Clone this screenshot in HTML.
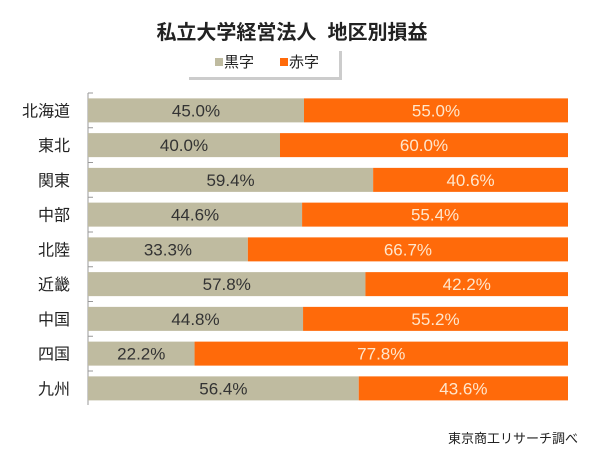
<!DOCTYPE html>
<html><head><meta charset="utf-8"><style>
body{margin:0;background:#fff;width:600px;height:450px;overflow:hidden;font-family:"Liberation Sans","Noto Sans CJK JP",sans-serif}
</style></head><body>
<svg width="600" height="450" id="svg">
<text x="292" y="39" text-anchor="middle" font-size="20" font-weight="bold" fill="#222" style="white-space:pre">私立大学経営法人  地区別損益</text>
<g>
<rect x="189" y="51" width="153" height="29" fill="#999" opacity="0.5"/>
<rect x="186" y="48" width="153" height="29" fill="#fff"/>
<rect x="215" y="58" width="8" height="8" fill="#bfbba0"/>
<text x="224" y="67" font-size="15" fill="#222">黒字</text>
<rect x="280" y="58" width="8" height="8" fill="#ff6a0a"/>
<text x="289" y="67" font-size="15" fill="#222">赤字</text>
</g>
<line x1="88" y1="93" x2="88" y2="405" stroke="#999"/>
<g id="bars"></g>
<text x="578" y="443" text-anchor="end" font-size="13" fill="#222">東京商工リサーチ調べ</text>
</svg>
<script>
const categories=["北海道","東北","関東","中部","北陸","近畿","中国","四国","九州"];
const blackValues=[45.0,40.0,59.4,44.6,33.3,57.8,44.8,22.2,56.4];
const redValues=[55.0,60.0,40.6,55.4,66.7,42.2,55.2,77.8,43.6];
const x0=88,x1=568,yTop=93,step=34.75,bh=24;
const xs=v=>x0+(x1-x0)*v/100;
const g=document.getElementById('bars');
const NS='http://www.w3.org/2000/svg';
function mk(t,a){const e=document.createElementNS(NS,t);for(const k in a)e.setAttribute(k,a[k]);return e;}
categories.forEach((c,i)=>{
 const cy=yTop+step*(i+0.5);
 const b=blackValues[i],r=redValues[i];
 const xb=xs(b),xr=xs(b+r);
 const r1=mk('rect',{x:x0,y:cy-bh/2,width:xb-x0,height:bh,fill:'#bfbba0'});
 
 
 g.appendChild(r1);
 const r2=mk('rect',{x:xb,y:cy-bh/2,width:xr-xb,height:bh,fill:'#ff6a0a'});
 
 
 g.appendChild(r2);
 const t1=mk('text',{x:(x0+xb)/2,y:cy+6,'text-anchor':'middle','font-size':17,fill:'#333'});
 t1.textContent=b.toFixed(1)+'%';
 
 
 g.appendChild(t1);
 const t2=mk('text',{x:(xb+xr)/2,y:cy+6,'text-anchor':'middle','font-size':17,fill:'#ffe6cc'});
 t2.textContent=r.toFixed(1)+'%';
 
 
 g.appendChild(t2);
 const tc=mk('text',{x:70,y:cy+6,'text-anchor':'end','font-size':16,fill:'#222'});
 tc.textContent=c;
 
 
 g.appendChild(tc);
 const tk=mk('line',{x1:88,x2:93,y1:yTop+step*i,y2:yTop+step*i,stroke:'#999'});
 
 
 g.appendChild(tk);
});
</script>
</body></html>
